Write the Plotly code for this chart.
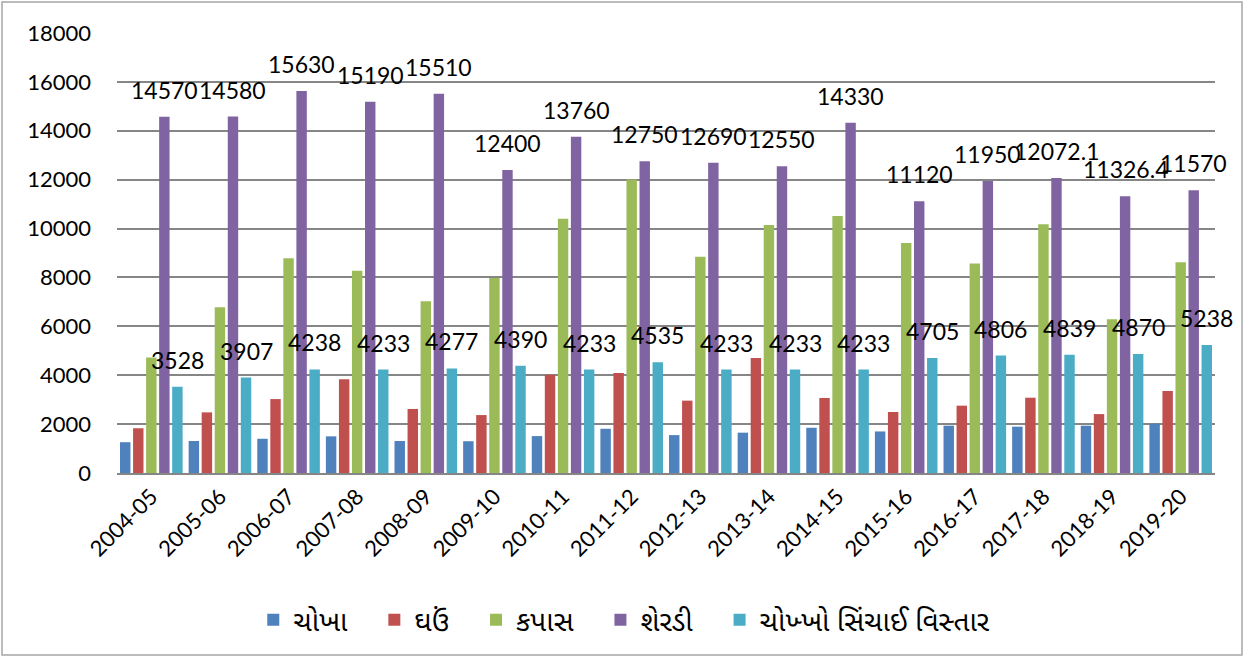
import plotly.graph_objects as go

years = ["2004-05", "2005-06", "2006-07", "2007-08", "2008-09", "2009-10", "2010-11", "2011-12",
         "2012-13", "2013-14", "2014-15", "2015-16", "2016-17", "2017-18", "2018-19", "2019-20"]

rice = [1260, 1310, 1400, 1500, 1310, 1300, 1510, 1810, 1550, 1650, 1850, 1700, 1935, 1895, 1935, 2015]
wheat = [1830, 2480, 3025, 3840, 2620, 2370, 4020, 4090, 2960, 4700, 3070, 2495, 2755, 3080, 2410, 3355]
cotton = [4730, 6780, 8790, 8275, 7030, 7980, 10400, 12010, 8850, 10150, 10510, 9410, 8575, 10180, 6290, 8620]
sugarcane = [14570, 14580, 15630, 15190, 15510, 12400, 13760, 12750, 12690, 12550, 14330, 11120,
             11950, 12072.1, 11326.4, 11570]
rice_irrigated = [3528, 3907, 4238, 4233, 4277, 4390, 4233, 4535, 4233, 4233, 4233, 4705, 4806, 4839,
                  4870, 5238]

names = ["ચોખા", "ઘઉં", "કપાસ", "શેરડી", "ચોખ્ખો સિંચાઈ વિસ્તાર"]
colors = ["#4F81BD", "#C0504D", "#9BBB59", "#8064A2", "#4BACC6"]
series = [rice, wheat, cotton, sugarcane, rice_irrigated]
labelled = [False, False, False, True, True]

FONT = "Lato, 'Noto Sans', sans-serif"
BARGAP = 0.05

fig = go.Figure()
annotations = []
n = len(series)
slot = (1 - BARGAP) / n
for k, (name, col, vals, lab) in enumerate(zip(names, colors, series, labelled)):
    fig.add_trace(go.Bar(x=years, y=vals, name=name + ("\u00a0" * 3 if k < n - 1 else ""),
                         marker=dict(color=col, line=dict(width=0))))
    if lab:
        off = -(1 - BARGAP) / 2 + slot * (k + 0.5)
        for i, v in enumerate(vals):
            annotations.append(dict(x=i + off, y=v, xref="x", yref="y", text=f"{v:g}",
                                    showarrow=False, yanchor="bottom", yshift=11,
                                    font=dict(size=23, color="black", family=FONT)))

W, H = 1244, 657
L, R, T, B = 117, 29, 33, 184
pw, ph = W - L - R, H - T - B

fig.update_layout(
    width=W, height=H,
    margin=dict(l=L, r=R, t=T, b=B),
    paper_bgcolor="white", plot_bgcolor="white",
    barmode="group", bargap=BARGAP, bargroupgap=0.2,
    font=dict(family=FONT, color="black"),
    showlegend=True,
    legend=dict(orientation="h", x=0.462, xanchor="center", y=(T + ph - 620) / ph, yanchor="middle",
                font=dict(size=28, color="black", family="'Noto Sans Gujarati', 'Noto Sans', sans-serif"),
                itemwidth=30, tracegroupgap=0),
    xaxis=dict(type="category", range=[-0.5, len(years) - 0.5], tickangle=-45,
               tickfont=dict(size=22, color="black"), showline=True,
               linecolor="#868686", linewidth=2, ticks="", showgrid=False),
    yaxis=dict(range=[0, 18000], dtick=2000, tickformat="d", tickfont=dict(size=22, color="black"),
               showgrid=True, gridcolor="#868686", gridwidth=2, zeroline=False,
               ticks="", showline=False, ticklabelstandoff=25),
    annotations=annotations,
    shapes=[dict(type="rect", xref="paper", yref="paper",
                 x0=(2 - L) / pw, x1=(W - 2 - L) / pw,
                 y0=(T + ph - (H - 2)) / ph, y1=(T + ph - 2) / ph,
                 line=dict(color="#A6A6A6", width=1.5), layer="below")],
)

fig.write_html("out.html", config={"displayModeBar": False},
               post_script="document.body.style.margin='0';")
